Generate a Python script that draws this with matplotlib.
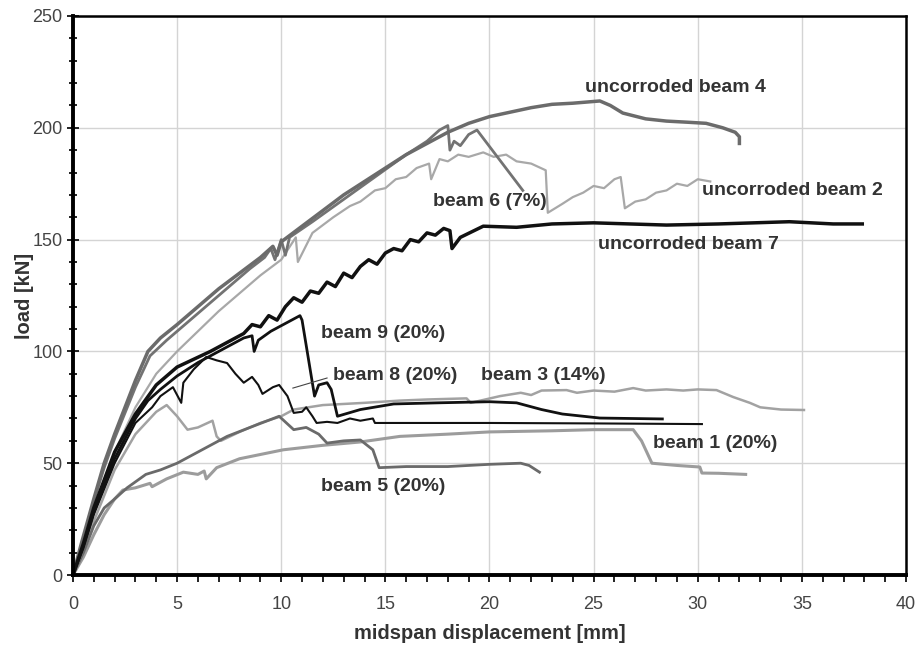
import matplotlib.pyplot as plt
from matplotlib.ticker import MultipleLocator

# load-displacement curves
x_b4 = [0, 0.4, 1.0, 1.5, 2.0, 2.5, 3.0, 3.6, 4.2, 5.0, 6.0, 7.0, 8.0, 9.0, 9.6, 9.8, 10.0, 11.0, 12.0, 13.0, 14.0,
        15.0, 16.0, 17.0, 18.0, 19.0, 20.0, 21.0, 22.0, 23.0, 24.0, 25.3, 25.8, 26.4, 27.5, 28.5, 29.5, 30.4, 31.2,
        31.8, 32.0, 32.0]
y_b4 = [0, 14, 34, 50, 63, 75, 87, 100, 106, 112, 120, 128, 135, 142, 147, 143, 149, 156, 163, 170, 176,
        182, 188, 193, 198, 202, 205, 207, 209, 210.5, 211, 212, 210, 206.6, 204, 203, 202.5, 202, 200,
        198, 196, 193]

x_b6 = [0, 0.5, 1.0, 1.5, 2.0, 3.0, 3.7, 4.5, 5.5, 7.0, 8.5, 9.2, 9.5, 9.7, 10.0, 10.2, 10.4, 11.5, 13.0, 14.5,
        16.0, 17.0, 17.6, 18.0, 18.1, 18.3, 18.6, 19.0, 19.4, 21.6]
y_b6 = [0, 16, 33, 48, 61, 84, 98, 105, 113, 125, 137, 142, 146, 141, 150, 143, 151, 158, 168, 178,
        188, 194, 199, 201, 190, 194, 192, 197, 199, 172]

x_b2 = [0, 0.5, 1.0, 2.0, 3.0, 4.0, 5.0, 6.0, 7.0, 8.0, 9.0, 10.0, 10.7, 10.8, 11.5, 12.5, 13.3, 13.8, 14.5,
        15.0, 15.5, 16.0, 16.5, 17.1, 17.2, 17.6, 18.0, 18.5, 19.0, 19.7, 20.2, 20.8, 21.3, 22.0, 22.7, 22.8,
        23.5, 24.0, 24.5, 25.0, 25.5, 26.0, 26.3, 26.5, 27.0, 27.5, 28.0, 28.5, 29.0, 29.5, 30.0, 30.6]
y_b2 = [0, 12, 28, 55, 75, 90, 100, 109, 118, 126, 134, 141, 151, 140, 153, 160, 165, 167, 172,
        173, 177, 178, 182, 184, 177, 186, 185, 188, 187, 189, 187, 188, 185, 184, 181, 162,
        166, 169, 171, 174, 173, 177, 178, 164, 167, 168, 171, 172, 175, 174, 177, 176]

x_b7 = [0, 0.5, 1.0, 2.0, 3.0, 4.0, 5.0, 6.6, 8.2, 8.6, 9.0, 9.4, 9.8, 10.2, 10.6, 11.0, 11.4, 11.8, 12.2,
        12.6, 13.0, 13.4, 13.8, 14.2, 14.6, 15.0, 15.4, 15.8, 16.2, 16.6, 17.0, 17.4, 17.8, 18.1, 18.2, 18.6,
        19.7, 21.3, 23.0, 25.0, 28.5, 31.0, 34.4, 36.5, 37.9]
y_b7 = [0, 14, 30, 55, 72, 85, 93, 100, 108, 112, 111, 116, 114, 120, 124, 122, 127, 126, 131,
        129, 135, 133, 138, 141, 139, 144, 146, 145, 150, 149, 153, 152, 155, 154, 146, 151,
        156, 155.5, 157, 157.5, 156.5, 157, 158, 157, 157]

x_b9 = [0, 0.5, 1.0, 2.0, 3.0, 3.6, 4.2, 5.0, 6.0, 7.0, 8.2, 8.6, 8.7, 8.9, 9.5, 10.3, 10.9, 11.0, 11.6, 11.8,
        12.2, 12.4, 12.7, 13.8, 15.4, 17.5, 20.0, 21.3, 22.5, 23.5, 25.3, 28.3]
y_b9 = [0, 13, 28, 52, 70, 78, 83, 89, 95, 100, 106, 107, 100, 105, 109, 113, 116, 114, 80, 85,
        86, 83, 71, 74, 76.5, 77, 77.5, 77, 74, 72, 70.2, 69.8]

x_b8 = [0, 0.5, 1.0, 2.0, 3.0, 3.8, 4.2, 4.8, 5.2, 5.3, 5.8, 6.4, 6.9, 7.4, 7.8, 8.2, 8.6, 8.9, 9.1, 9.6, 9.9,
        10.3, 10.6, 11.0, 11.2, 11.5, 11.7, 12.2, 12.7, 13.3, 13.8, 14.4, 14.5, 20.0, 25.0, 30.2]
y_b8 = [0, 12, 27, 50, 68, 75, 80, 84, 77, 86, 92, 97.5, 96, 94.8, 90, 86, 88.6, 85, 81, 84, 85,
        80, 72.5, 73, 75, 71, 68, 68.5, 68, 70, 69, 70, 68, 68, 67.8, 67.5]

x_b3 = [0, 0.5, 1.0, 2.0, 3.0, 4.0, 4.5, 5.0, 5.5, 6.0, 6.7, 6.9, 7.1, 8.0, 9.0, 10.0, 10.6, 12.0, 14.0, 15.7,
        17.0, 18.9, 19.1, 20.5, 21.5, 22.0, 22.5, 23.7, 24.2, 25.0, 26.0, 26.9, 27.5, 28.5, 29.3, 30.0, 30.9,
        31.7, 32.5, 33.0, 34.0, 35.1]
y_b3 = [0, 11, 24, 47, 63, 73, 76, 71, 65, 66, 69, 62, 60, 64, 68, 71, 74, 76, 77, 78,
        78.5, 79, 77, 80, 81.5, 80.5, 82.5, 82.7, 81.5, 82.5, 82, 83.6, 82.5, 83, 82.5, 83, 82.7,
        79.6, 77, 75, 74, 73.8]

x_b1 = [0, 0.5, 1.0, 1.5, 2.0, 2.4, 3.0, 3.7, 3.8, 4.5, 5.3, 6.0, 6.3, 6.4, 6.9, 8.0, 10.1, 12.0, 13.8, 15.7,
        18.0, 20.0, 23.0, 25.0, 26.9, 27.3, 27.8, 29.0, 30.1, 30.2, 31.0, 32.3]
y_b1 = [0, 8, 18, 27, 34, 38, 39, 41, 39.5, 43, 46, 45, 46.5, 43, 48, 52, 56, 58, 59.5, 62,
        63, 64, 64.5, 65, 65, 60, 50, 49, 48.3, 45.6, 45.5, 45]

x_b5 = [0, 0.5, 1.0, 1.5, 2.0, 2.6, 3.5, 4.2, 5.0, 6.0, 7.4, 8.5, 9.9, 10.6, 11.2, 11.8, 12.2, 13.0, 13.8,
        14.4, 14.7, 16.0, 18.0, 20.0, 21.5, 21.9, 22.4]
y_b5 = [0, 10, 22, 30, 34, 39, 45, 47, 50, 55, 62, 66, 71, 65, 66, 63, 59, 60, 60.4,
        56, 48, 48.5, 48.5, 49.5, 50, 49, 46]

labels = ['uncorroded beam 4', 'uncorroded beam 2', 'beam 6 (7%)', 'uncorroded beam 7',
          'beam 9 (20%)', 'beam 8 (20%)', 'beam 3 (14%)', 'beam 1 (20%)', 'beam 5 (20%)']
label_x = [24.6, 30.2, 17.3, 25.2, 11.9, 12.5, 19.6, 27.85, 11.9]
label_y = [218, 172, 167, 147.6, 108, 89.4, 89.4, 58.6, 39.4]

fig = plt.figure(figsize=(9.2, 6.45), dpi=100)
ax = fig.add_axes([0.0793, 0.1085, 0.9055, 0.8667])

ax.plot(x_b1, y_b1, color='#9c9c9c', lw=2.2)
ax.plot(x_b3, y_b3, color='#a2a2a2', lw=1.8)
ax.plot(x_b2, y_b2, color='#a8a8a8', lw=1.6)
ax.plot(x_b5, y_b5, color='#6a6a6a', lw=2.0)
ax.plot(x_b6, y_b6, color='#737373', lw=2.0)
ax.plot(x_b4, y_b4, color='#6b6b6b', lw=2.5)
ax.plot(x_b8, y_b8, color='#111111', lw=1.5)
ax.plot(x_b9, y_b9, color='#111111', lw=2.0)
ax.plot(x_b7, y_b7, color='#111111', lw=2.5)

# leader line to beam 8
ax.plot([10.56, 12.2], [83.6, 88.1], color='#444444', lw=0.8)

for t, lx, ly in zip(labels, label_x, label_y):
    ax.text(lx, ly, t, fontsize=14, fontweight='bold', color='#333333',
            family='Liberation Sans', ha='left', va='center')

ax.set_xlim(0, 40)
ax.set_ylim(0, 250)
ax.xaxis.set_major_locator(MultipleLocator(5))
ax.xaxis.set_minor_locator(MultipleLocator(1))
ax.yaxis.set_major_locator(MultipleLocator(50))
ax.yaxis.set_minor_locator(MultipleLocator(10))
ax.grid(True, which='major', color='#d4d4d4', lw=1.0)
ax.set_axisbelow(True)

for side in ['left', 'bottom']:
    ax.spines[side].set_linewidth(2.8)
for side in ['top', 'right']:
    ax.spines[side].set_linewidth(1.8)

ax.tick_params(axis='both', which='both', direction='inout', color='#111111', width=1.3,
               labelsize=13, labelcolor='#444444')
ax.tick_params(axis='both', which='major', length=8)
ax.tick_params(axis='both', which='minor', length=6)
ax.tick_params(axis='x', which='both', direction='out', length=5, pad=10)
for lab in ax.get_xticklabels() + ax.get_yticklabels():
    lab.set_family('Liberation Sans')

ax.set_xlabel('midspan displacement [mm]', fontsize=14.5, fontweight='bold', color='#333333',
              family='Liberation Sans', labelpad=8)
ax.set_ylabel('load [kN]', fontsize=14.5, fontweight='bold', color='#333333',
              family='Liberation Sans', labelpad=-1)

plt.savefig('out.png', dpi=100)
